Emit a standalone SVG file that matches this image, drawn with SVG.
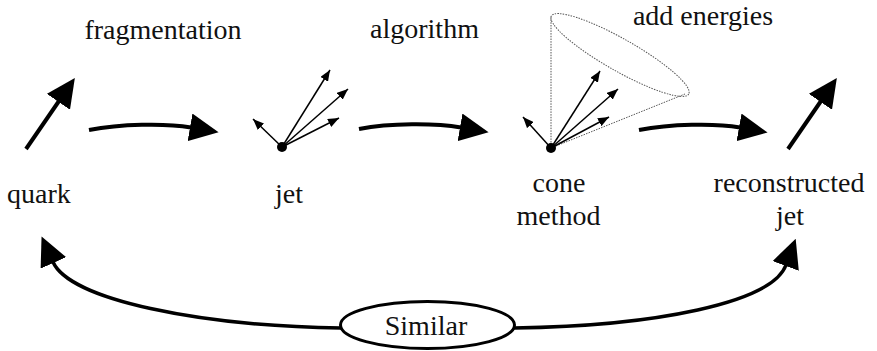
<svg xmlns="http://www.w3.org/2000/svg" width="877" height="351" viewBox="0 0 877 351">
<style>
text{font-family:'Liberation Serif','Times New Roman',Tinos,'DejaVu Serif',serif;font-size:28px;fill:#111;text-anchor:middle}
.thick{fill:none;stroke:#000;stroke-width:4}
.bot{fill:none;stroke:#000;stroke-width:3.5}
.thin{fill:none;stroke:#000;stroke-width:1.5}
.dot{fill:none;stroke:#555;stroke-width:1;stroke-dasharray:1.5 1.2}
</style>
<defs>
<marker id="big" viewBox="0 0 29 28" refX="1" refY="14" markerWidth="29" markerHeight="28" markerUnits="userSpaceOnUse" orient="auto">
<path d="M0,0 L29,14 L0,28 z" fill="#000"/>
</marker>
<marker id="small" viewBox="0 0 11 9" refX="11" refY="4.5" markerWidth="11" markerHeight="9" markerUnits="userSpaceOnUse" orient="auto">
<path d="M0,0 L11,4.5 L0,9 z" fill="#000"/>
</marker>
</defs>

<g id="quark">
<line class="thick" x1="26" y1="149" x2="59" y2="101" marker-end="url(#big)"/>
<text x="39" y="203" font-family="Liberation Serif, serif">quark</text>
</g>

<g id="jet">
<line class="thin" x1="282" y1="147" x2="253" y2="119" marker-end="url(#small)"/>
<line class="thin" x1="282" y1="147" x2="330" y2="70" marker-end="url(#small)"/>
<line class="thin" x1="282" y1="147" x2="348" y2="89" marker-end="url(#small)"/>
<line class="thin" x1="282" y1="147" x2="339" y2="118" marker-end="url(#small)"/>
<circle cx="282" cy="147" r="5" fill="#000"/>
<text x="289" y="203">jet</text>
</g>

<g id="cone">
<line class="dot" x1="551" y1="148" x2="551" y2="17"/>
<line class="dot" x1="551" y1="148" x2="685" y2="94"/>
<ellipse class="dot" cx="620" cy="55" rx="79" ry="16" transform="rotate(29.6 620 55)"/>
<line class="thin" x1="551" y1="148" x2="523" y2="117" marker-end="url(#small)"/>
<line class="thin" x1="551" y1="148" x2="600" y2="71" marker-end="url(#small)"/>
<line class="thin" x1="551" y1="148" x2="618" y2="89" marker-end="url(#small)"/>
<line class="thin" x1="551" y1="148" x2="609" y2="117" marker-end="url(#small)"/>
<circle cx="551" cy="148" r="5" fill="#000"/>
<text x="559" y="192">cone</text>
<text x="558.5" y="225">method</text>
</g>

<g id="recojet">
<line class="thick" x1="788" y1="149" x2="821" y2="101" marker-end="url(#big)"/>
<text x="789" y="192">reconstructed</text>
<text x="790" y="225">jet</text>
</g>

<g id="similar">
<ellipse cx="427.5" cy="325" rx="87" ry="23.5" fill="#fff" stroke="#000" stroke-width="3"/>
<text x="426" y="335">Similar</text>
</g>

<g id="labels">
<text x="163" y="39">fragmentation</text>
<text x="424.5" y="38">algorithm</text>
<text x="703" y="25">add energies</text>
</g>

<g id="connectors">
<path class="thick" d="M89,130 C120,124 165,123 191,127.5" marker-end="url(#big)"/>
<path class="thick" d="M359,129 C390,123 435,123 461,127.5" marker-end="url(#big)"/>
<path class="thick" d="M639,130 C670,124 715,123 740,127.5" marker-end="url(#big)"/>
<path class="bot" d="M341,328 C200,326 70,300 53,262" marker-end="url(#big)"/>
<path class="bot" d="M514,328 C655,326 772,303 786,265" marker-end="url(#big)"/>
</g>
</svg>
